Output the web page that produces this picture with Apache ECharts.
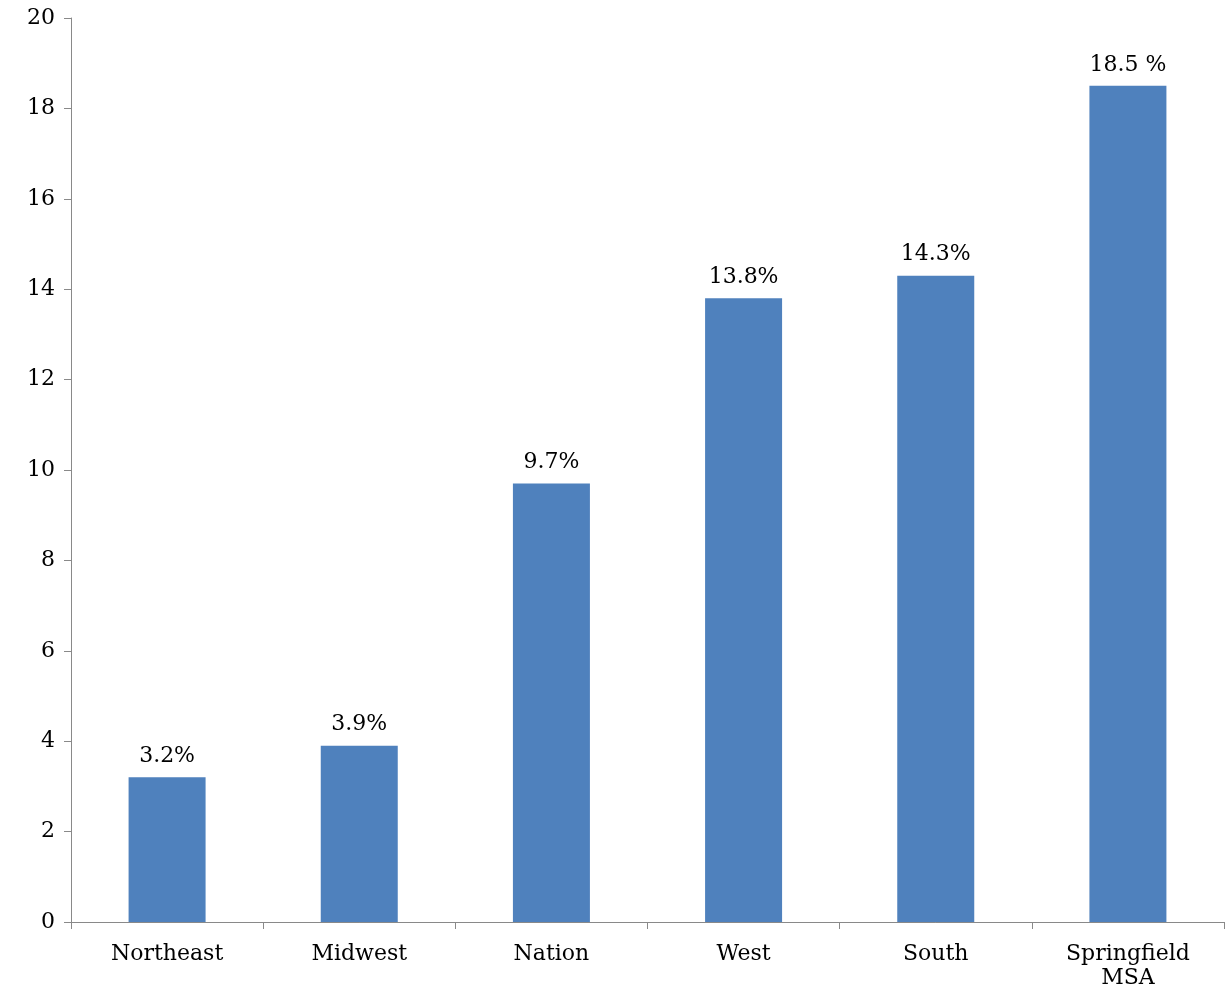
<!DOCTYPE html>
<html>
<head>
<meta charset="utf-8">
<script src="https://cdn.jsdelivr.net/npm/echarts@6/dist/echarts.min.js"></script>
<style>html,body{margin:0;padding:0;background:#fff}#chart{width:1226px;height:995px}</style>
</head>
<body>
<div id="chart"></div>
<script>
const categories = ["Northeast", "Midwest", "Nation", "West", "South", "Springfield\nMSA"];
const values = [3.2, 3.9, 9.7, 13.8, 14.3, 18.5];
const labels = ["3.2%", "3.9%", "9.7%", "13.8%", "14.3%", "18.5 %"];

const font = "'DejaVu Serif', 'Liberation Serif', serif";
const chart = echarts.init(document.getElementById("chart"));
chart.setOption({
  animation: false,
  textStyle: { fontFamily: font },
  grid: { left: 71, right: 2, top: 18, bottom: 73 },
  xAxis: {
    type: "category",
    data: categories,
    axisLine: { lineStyle: { color: "#898989" } },
    axisTick: { show: true, length: 7, lineStyle: { color: "#898989" } },
    axisLabel: { color: "#000", fontSize: 22, fontFamily: font, margin: 20, lineHeight: 24 }
  },
  yAxis: {
    type: "value",
    min: 0, max: 20, interval: 2,
    splitLine: { show: false },
    axisLine: { show: true, lineStyle: { color: "#898989" } },
    axisTick: { show: true, length: 7, lineStyle: { color: "#898989" } },
    axisLabel: { color: "#000", fontSize: 22, fontFamily: font, margin: 16 }
  },
  series: [{
    type: "bar",
    data: values,
    barWidth: 77,
    itemStyle: { color: "#4f81bd" },
    label: {
      show: true, position: "top", distance: 10,
      color: "#000", fontSize: 22, fontFamily: font,
      formatter: p => labels[p.dataIndex]
    }
  }]
});
</script>
</body>
</html>
